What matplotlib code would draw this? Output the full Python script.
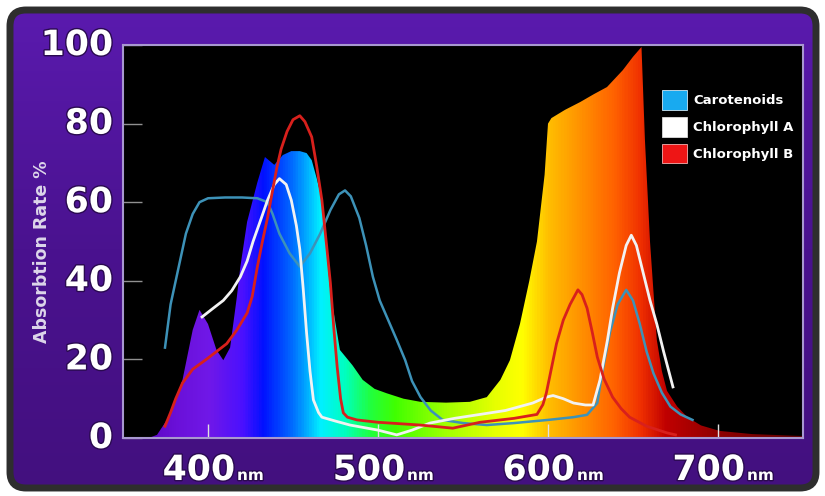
import numpy as np
import matplotlib
matplotlib.use("Agg")
import matplotlib.pyplot as plt
from matplotlib.colors import LinearSegmentedColormap
from matplotlib.patches import Polygon, FancyBboxPatch, Patch
import matplotlib.patheffects as pe

# light spectrum (filled, coloured by wavelength)
spec_wl = [365, 370, 378, 385, 391, 395, 400, 405, 409, 413, 417, 419, 423, 429,
           433.5, 439, 444, 449, 454, 458, 461, 464, 467, 472, 477.6, 485, 491,
           498, 505, 515, 525, 540, 554, 564, 572, 577.6, 583.5, 589, 593.5, 598,
           600, 602, 610, 619, 627, 634.7, 644, 650, 655, 657, 660, 664, 667, 670,
           676, 682, 690, 701, 720, 750]
spec_val = [0, 0.8, 6, 14.8, 27.5, 32.6, 29, 22.4, 19.8, 23, 36, 43.5, 55, 65,
            71.5, 69.5, 72, 73, 73, 72.5, 70.7, 66, 60.5, 37, 22.4, 18.5, 14.8,
            12.5, 11.4, 10, 9.2, 9, 9.2, 10.4, 14.8, 19.8, 29, 40, 50, 67,
            80, 81.4, 83.5, 85.5, 87.5, 89.3, 93.6, 97, 99.5, 76, 50, 25, 17, 12,
            8, 5.3, 3.2, 1.8, 1, 0.5]

# Carotenoids
car_wl = [374.7, 378, 383.5, 387, 391, 395, 400, 410, 420, 429, 435, 438, 442, 448,
          454, 460, 466, 472, 477, 480.6, 484, 489, 493, 497, 501, 506, 511, 516,
          520, 525, 531, 538, 550, 564, 580, 600, 615, 623, 629, 632, 636.5, 641,
          646, 650, 654, 658, 662, 667, 672, 678, 685]
car_val = [23, 34, 45, 52, 57, 60, 61, 61.2, 61.2, 61, 60, 57, 52, 47,
           43.6, 47, 52, 58, 62, 63, 61.5, 56, 49, 41, 35, 30, 25, 19.8,
           14.5, 10.4, 7, 4.6, 3.8, 3.3, 3.8, 4.6, 5.3, 5.9, 8.9, 17, 27, 34,
           37.7, 35, 29, 22, 16.5, 11.5, 8, 6, 4.6]

# Chlorophyll A
cha_wl = [396.5, 403, 409, 414, 419, 423, 426.5, 431, 435, 439, 442, 446, 449, 452,
          454, 456, 458, 460, 462, 465, 467, 475, 483.5, 500, 511, 520, 530.6, 545,
          560, 575, 591, 599, 603, 609, 615, 622, 626.5, 630.6, 635, 638, 642, 646,
          649, 652, 656, 660, 664, 668, 673.5]
cha_val = [30.8, 33, 35, 37.5, 41, 45, 50, 55.5, 60.5, 64.5, 66, 64.5, 60.5, 54,
           48, 38, 26.7, 17, 9.7, 6.5, 5.3, 4.3, 3.3, 2, 0.8, 2, 3.8, 5,
           6, 7, 8.9, 10.4, 10.8, 10, 8.9, 8.4, 8.4, 14.8, 25, 33, 42, 49,
           51.6, 49, 42, 35, 29, 22, 13]

# Chlorophyll B
chb_wl = [374.7, 378, 381, 385, 391, 399, 405, 411, 417, 423, 426, 429, 432, 435,
          438, 440.6, 443, 446.5, 450, 454, 457, 461, 464, 467, 470, 472, 474, 476,
          478, 479.6, 482, 487.6, 500, 524.7, 544, 560, 580, 593.5, 597, 599, 603,
          605, 609, 613, 617.6, 620, 623, 626, 629, 633, 638, 643, 648, 658, 670, 675]
chb_val = [3, 6.5, 10, 14, 17.5, 20, 22, 24, 27.5, 31.8, 36, 43.5, 50, 56,
           63, 69, 73.5, 78, 81, 82, 80.5, 76.6, 69, 60.5, 48, 39.4, 28, 18,
           10, 6.4, 5.3, 4.6, 4, 3.3, 2.5, 4, 5, 6, 8.5, 11.4, 19.8,
           24, 30, 34, 37.7, 36.5, 33, 27, 20.6, 15, 10.4, 7.5, 5.3, 3, 1.3, 0.8]

series_names = ["Carotenoids", "Chlorophyll A", "Chlorophyll B"]
x_ticks = [400, 500, 600, 700]
y_ticks = [0, 20, 40, 60, 80, 100]

# spectrum colour stops (wavelength, colour)
spectrum_stops = [(350, "#5000b0"), (380, "#6a10d8"), (400, "#7018e8"), (420, "#4a10ff"),
                  (432, "#0010ff"), (450, "#0070ff"), (466, "#00f0ff"), (480, "#00ffc0"),
                  (495, "#20ff40"), (510, "#40ff00"), (540, "#a0ff00"), (570, "#e8ff00"),
                  (585, "#ffff00"), (600, "#ffc000"), (620, "#ff9000"), (640, "#ff6000"),
                  (655, "#f03000"), (670, "#c00000"), (700, "#900000"), (750, "#600000")]

fig = plt.figure(figsize=(8.25, 4.96), dpi=100, facecolor="white")

# purple frame behind everything
bg = fig.add_axes([0, 0, 1, 1])
bg.set_xlim(0, 825)
bg.set_ylim(496, 0)
bg.axis("off")
frame = FancyBboxPatch((10, 10), 806, 478, boxstyle="round,pad=0,rounding_size=16",
                       facecolor="none", edgecolor="#2e2e2e", linewidth=5)
bg.add_patch(frame)
grad = np.linspace(0, 1, 200)[:, None]
purple = LinearSegmentedColormap.from_list("purple", ["#5a1aae", "#4a128f", "#43107f"])
im_bg = bg.imshow(grad, extent=[10, 816, 488, 10], cmap=purple, aspect="auto", zorder=0)
im_bg.set_clip_path(frame)

ax = fig.add_axes([123 / 825, 58 / 496, 680 / 825, 393 / 496])
ax.set_facecolor("black")
ax.set_xlim(350, 750)
ax.set_ylim(0, 100)

# gradient fill clipped to the spectrum shape
cmap = LinearSegmentedColormap.from_list(
    "spec", [((w - 350) / 400, c) for w, c in spectrum_stops])
poly = Polygon(np.column_stack([spec_wl + [spec_wl[-1], spec_wl[0]],
                                spec_val + [0, 0]]),
               closed=True, facecolor="none", edgecolor="none")
ax.add_patch(poly)
im = ax.imshow(np.linspace(350, 750, 800)[None, :], extent=[350, 750, 0, 100],
               cmap=cmap, vmin=350, vmax=750, aspect="auto", zorder=1)
im.set_clip_path(poly)

ax.plot(car_wl, car_val, color="#3d92b8", lw=1.8, zorder=3)
ax.plot(cha_wl, cha_val, color="#f2f2f2", lw=2, zorder=4)
ax.plot(chb_wl, chb_val, color="#d8201c", lw=2, zorder=5)

for s in ax.spines.values():
    s.set_color("#a898d0")
    s.set_linewidth(1.5)

ax.set_xticks(x_ticks)
ax.set_yticks(y_ticks)
ax.set_xticklabels([])
ax.set_yticklabels([])
ax.tick_params(axis="x", direction="in", length=10, color="#e0e0e0", width=1)
ax.tick_params(axis="y", direction="in", length=14, color="#909090", width=1)

shadow = [pe.withStroke(linewidth=2, foreground="#2a0a50")]
for t in x_ticks:
    ax.annotate(str(t), xy=(t, 0), xycoords="data", xytext=(27, -42),
                textcoords="offset pixels", ha="right", va="baseline",
                fontsize=25, fontweight="bold", color="white", path_effects=shadow)
    ax.annotate("nm", xy=(t, 0), xycoords="data", xytext=(29, -42),
                textcoords="offset pixels", ha="left", va="baseline",
                fontsize=11, fontweight="bold", color="white", path_effects=shadow)
for v in y_ticks:
    ax.annotate(str(v), xy=(350, v), xycoords="data", xytext=(-10, 0),
                textcoords="offset pixels", ha="right", va="center",
                fontsize=25, fontweight="bold", color="white", path_effects=shadow)

fig.text(42 / 825, 1 - 252 / 496, "Absorbtion Rate %", rotation=90, ha="center",
         va="center", fontsize=12.5, fontweight="bold", color="#ddd6ea")

handles = [Patch(facecolor="#18aaf0", edgecolor="#cfe8f5", linewidth=0.6),
           Patch(facecolor="white", edgecolor="#dddddd", linewidth=0.6),
           Patch(facecolor="#ee1515", edgecolor="#f5b0b0", linewidth=0.6)]
leg = ax.legend(handles, series_names, loc="upper left", bbox_to_anchor=(0.793, 0.885),
                frameon=False, handlelength=1.9, handleheight=1.9, labelspacing=0.55,
                handletextpad=0.45, borderpad=0, borderaxespad=0,
                prop={"size": 9.5, "weight": "bold"})
for txt in leg.get_texts():
    txt.set_color("white")

fig.savefig("out.png", dpi=100, facecolor="white")
